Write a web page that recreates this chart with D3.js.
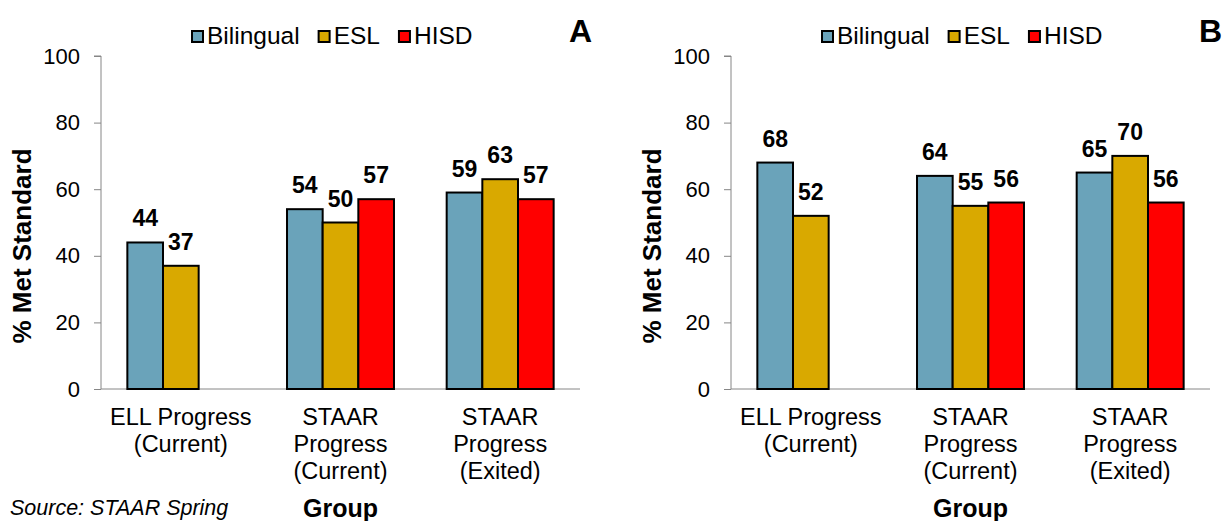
<!DOCTYPE html>
<html>
<head>
<meta charset="utf-8">
<script src="https://cdn.jsdelivr.net/npm/d3@7"></script>
<style>
  html, body { margin: 0; padding: 0; background: #fff; }
  svg { display: block; font-family: "Liberation Sans", Arial, sans-serif; }
</style>
</head>
<body>
<svg id="chart" width="1227" height="521"></svg>
<script>
// Categories, series and values for the two panels
const groups = ["ELL Progress (Current)", "STAAR Progress (Current)", "STAAR Progress (Exited)"];
const groupLines = [["ELL Progress", "(Current)"], ["STAAR", "Progress", "(Current)"], ["STAAR", "Progress", "(Exited)"]];
const series = ["Bilingual", "ESL", "HISD"];
const seriesColors = ["#6aa3ba", "#d9a900", "#ff0000"];
const panelAValues = {
  Bilingual: [44, 54, 59],
  ESL: [37, 50, 63],
  HISD: [null, 57, 57]
};
const panelBValues = {
  Bilingual: [68, 64, 65],
  ESL: [52, 55, 70],
  HISD: [null, 56, 56]
};
const yTicks = [0, 20, 40, 60, 80, 100];

const svg = d3.select("#chart");

function drawPanel(offsetX, values, letter) {
  const g = svg.append("g").attr("transform", `translate(${offsetX},0)`);
  const plotLeft = 101, plotRight = 580, plotTop = 56, plotBottom = 389;

  const y = d3.scaleLinear().domain([0, 100]).range([plotBottom, plotTop]);
  const x0 = d3.scaleBand().domain(groups).range([plotLeft, plotRight]).padding(0);
  const bw = x0.bandwidth();
  const barsWidth = bw * 0.67;
  const x1 = d3.scaleBand().domain(series)
    .range([(bw - barsWidth) / 2, (bw + barsWidth) / 2]).padding(0);

  // y axis
  const yAxis = g.append("g")
    .attr("transform", `translate(${plotLeft},0)`)
    .call(d3.axisLeft(y).tickValues(yTicks).tickSize(7).tickPadding(14));
  yAxis.select(".domain").attr("stroke", "#868686").attr("d", `M-7,${plotTop}H0V${plotBottom}`);
  yAxis.selectAll(".tick line").attr("stroke", "#868686");
  yAxis.selectAll(".tick text").attr("font-size", 22).attr("fill", "#000")
    .attr("font-family", "Liberation Sans, Arial, sans-serif");

  // baseline
  g.append("line")
    .attr("x1", plotLeft).attr("x2", plotRight)
    .attr("y1", y(0)).attr("y2", y(0))
    .attr("stroke", "#868686").attr("stroke-width", 1);

  // bars
  const data = [];
  groups.forEach((grp, gi) => {
    series.forEach((s, si) => {
      const v = values[s][gi];
      if (v !== null) data.push({ grp, s, si, v });
    });
  });

  const bars = g.append("g");
  bars.selectAll("rect").data(data).enter().append("rect")
    .attr("x", d => x0(d.grp) + x1(d.s))
    .attr("y", d => y(d.v))
    .attr("width", x1.bandwidth())
    .attr("height", d => y(0) - y(d.v))
    .attr("fill", d => seriesColors[d.si])
    .attr("stroke", "#000")
    .attr("stroke-width", 2);

  bars.selectAll("text").data(data).enter().append("text")
    .attr("x", d => x0(d.grp) + x1(d.s) + x1.bandwidth() / 2)
    .attr("y", d => y(d.v) - 16)
    .attr("text-anchor", "middle")
    .attr("font-size", 23).attr("font-weight", "bold")
    .text(d => d.v);

  // category labels
  groups.forEach((grp, gi) => {
    const t = g.append("text")
      .attr("x", x0(grp) + bw / 2)
      .attr("y", 425)
      .attr("text-anchor", "middle")
      .attr("font-size", 23.5);
    groupLines[gi].forEach((line, li) => {
      t.append("tspan").attr("x", x0(grp) + bw / 2).attr("dy", li === 0 ? 0 : 27).text(line);
    });
  });

  // axis titles
  g.append("text")
    .attr("x", x0(groups[1]) + bw / 2).attr("y", 517)
    .attr("text-anchor", "middle")
    .attr("font-size", 25).attr("font-weight", "bold")
    .text("Group");

  g.append("text")
    .attr("transform", `translate(31,246) rotate(-90)`)
    .attr("text-anchor", "middle")
    .attr("font-size", 26).attr("font-weight", "bold")
    .text("% Met Standard");

  // legend
  const legend = g.append("g");
  let lx = 192;
  series.forEach((s, i) => {
    legend.append("rect")
      .attr("x", lx).attr("y", 31).attr("width", 11).attr("height", 11)
      .attr("fill", seriesColors[i]).attr("stroke", "#000").attr("stroke-width", 2);
    const t = legend.append("text")
      .attr("x", lx + 15).attr("y", 44)
      .attr("font-size", 24.5)
      .text(s);
    lx += 15 + t.node().getComputedTextLength() + 19;
  });

  // panel letter
  g.append("text")
    .attr("x", 569).attr("y", 42)
    .attr("font-size", 32).attr("font-weight", "bold")
    .text(letter);
}

drawPanel(0, panelAValues, "A");
drawPanel(630, panelBValues, "B");

// source note
svg.append("text")
  .attr("x", 10).attr("y", 515)
  .attr("font-size", 21.5).attr("font-style", "italic")
  .text("Source: STAAR Spring");
</script>
</body>
</html>
